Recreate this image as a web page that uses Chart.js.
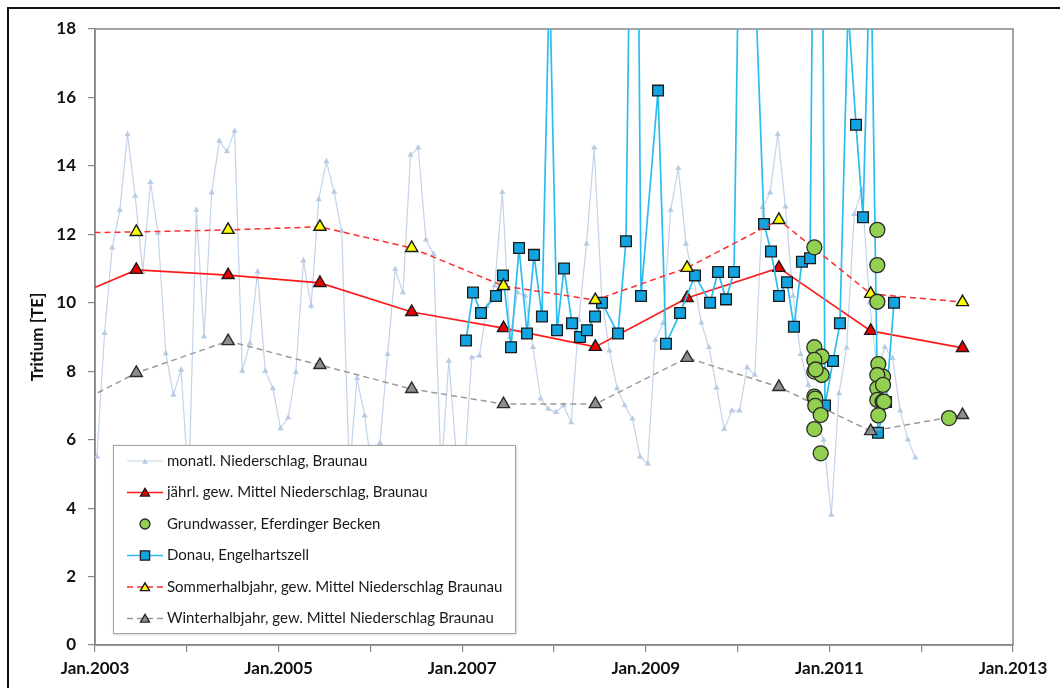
<!DOCTYPE html>
<html>
<head>
<meta charset="utf-8">
<script src="https://cdn.jsdelivr.net/npm/chart.js@4.4.0/dist/chart.umd.min.js"></script>
<style>
  html, body { margin: 0; padding: 0; background: #fff; }
  #wrap { width: 1060px; height: 688px; position: relative; }
</style>
</head>
<body>
<div id="wrap"><canvas id="c" width="1060" height="688"></canvas></div>
<script>
// Tritium in precipitation (Braunau), groundwater (Eferdinger Becken) and the Danube (Engelhartszell)

const seriesLabels = [
  'monatl. Niederschlag, Braunau',
  'jährl. gew. Mittel Niederschlag, Braunau',
  'Grundwasser, Eferdinger Becken',
  'Donau, Engelhartszell',
  'Sommerhalbjahr, gew. Mittel Niederschlag Braunau',
  'Winterhalbjahr, gew. Mittel Niederschlag Braunau'
];

// monthly precipitation, Jan 2003 .. Dec 2011 (TE)
const monthlyFirstYear = 2003;
const monthlyValues = [
  5.5, 9.11, 11.61, 12.71, 14.92, 13.12, 10.9, 13.52, 12.03, 8.52, 7.31, 8.04,
  4.6, 12.71, 9.01, 13.22, 14.73, 14.42, 15.02, 8.01, 8.82, 10.91, 8.01, 7.5,
  6.33, 6.64, 7.97, 11.23, 9.91, 13.02, 14.13, 13.24, 12.1, 5.0, 7.79, 6.7,
  5.0, 5.9, 8.5, 10.98, 10.3, 14.32, 14.53, 11.84, 11.42, 5.0, 8.3, 5.5,
  5.0, 8.4, 8.45, 9.9, 10.5, 13.23, 9.0, 10.3, 10.2, 8.7, 7.2, 6.9,
  6.8, 7.0, 6.5, 9.5, 11.72, 14.53, 10.1, 8.6, 7.5, 7.0, 6.61, 5.5,
  5.3, 8.91, 9.4, 12.71, 13.93, 11.72, 10.7, 9.42, 8.7, 7.52, 6.31, 6.85,
  6.85, 8.11, 7.89, 12.79, 13.22, 14.92, 12.81, 10.2, 8.5, 7.6, 6.5, 5.99,
  3.8, 7.35, 8.69, 12.59, 13.3, 10.0, 8.0, 8.7, 8.38, 6.85, 6.0, 5.47
];

// weighted means, plotted in the middle of each year
const meanYears   = [2002, 2003, 2004, 2005, 2006, 2007, 2008, 2009, 2010, 2011, 2012];
const yearlyMean  = [9.83, 10.96, 10.81, 10.58, 9.73, 9.26, 8.71, 10.14, 11.02, 9.18, 8.68];
const summerMean  = [12.03, 12.07, 12.13, 12.22, 11.6, 10.49, 10.08, 11.02, 12.42, 10.26, 10.02];
const winterMean  = [6.57, 7.95, 8.88, 8.18, 7.48, 7.04, 7.04, 8.39, 7.54, 6.25, 6.72];

// Danube samples (decimal year, TE)
const donauDates = [
  2007.041, 2007.118, 2007.205, 2007.368, 2007.444, 2007.532, 2007.619, 2007.706, 2007.782, 2007.869,
  2007.951, 2008.033, 2008.109, 2008.196, 2008.283, 2008.359, 2008.447, 2008.523, 2008.697, 2008.784,
  2008.882, 2008.948, 2009.133, 2009.220, 2009.373, 2009.536, 2009.700, 2009.787, 2009.874, 2009.961,
  2010.059, 2010.288, 2010.364, 2010.451, 2010.538, 2010.614, 2010.701, 2010.789, 2010.887, 2010.952,
  2011.039, 2011.115, 2011.203, 2011.290, 2011.366, 2011.449, 2011.529, 2011.617, 2011.704
];
const donauValues = [
  8.9, 10.3, 9.7, 10.2, 10.8, 8.7, 11.6, 9.1, 11.4, 9.6,
  19.6, 9.2, 11.0, 9.4, 9.0, 9.2, 9.6, 10.0, 9.1, 11.8,
  32.9, 10.2, 16.2, 8.8, 9.7, 10.8, 10.0, 10.9, 10.1, 10.9,
  29.1, 12.3, 11.5, 10.2, 10.6, 9.3, 11.2, 11.3, 41.0, 7.0,
  8.3, 9.4, 18.6, 15.2, 12.5, 20.9, 6.2, 7.1, 10.0
];

// groundwater wells (decimal year, TE)
const groundDates = [
  2010.836, 2010.836, 2010.916, 2010.836, 2010.836, 2010.916, 2010.850, 2010.836, 2010.846, 2010.846,
  2010.905, 2010.836, 2010.905,
  2011.522, 2011.522, 2011.522, 2011.533, 2011.584, 2011.522, 2011.522, 2011.584, 2011.522, 2011.579,
  2011.595, 2011.533, 2012.303
];
const groundValues = [
  11.62, 8.70, 8.43, 8.33, 7.99, 7.89, 8.05, 7.26, 7.20, 6.99,
  6.72, 6.31, 5.60,
  12.13, 11.10, 10.03, 8.21, 7.84, 7.89, 7.50, 7.60, 7.16, 7.11,
  7.11, 6.71, 6.63
];

const xMin = 2003, xMax = 2013;
const xLabelYears = [2003, 2005, 2007, 2009, 2011, 2013];
const yMin = 0, yMax = 18, yStep = 2;
const axisTitle = 'Tritium [TE]';

// ---- build point lists ----
const monthlyPts = monthlyValues.map((v, k) => ({ x: monthlyFirstYear + (k + 0.25) / 12, y: v }));
const midYear = y => y + 0.45;
const yearlyPts = meanYears.map((yr, i) => ({ x: midYear(yr), y: yearlyMean[i] }));
const summerPts = meanYears.map((yr, i) => ({ x: midYear(yr), y: summerMean[i] }));
const winterPts = meanYears.map((yr, i) => ({ x: midYear(yr), y: winterMean[i] }));
const donauPts = donauDates.map((d, i) => ({ x: d, y: donauValues[i] }));
const groundPts = groundDates.map((d, i) => ({ x: d, y: groundValues[i] }));

const FONT = 'Lato, "Open Sans", "DejaVu Sans", sans-serif';
const AXIS_GREY = '#878787';

const styles = [
  { line: '#c3d4ea', width: 1.2, dash: [], pt: 'triangle', r: 3.6, fill: '#b7cbe5', edge: '#b7cbe5', ew: 0 },
  { line: '#ff1a1a', width: 1.7, dash: [], pt: 'triangle', r: 7, fill: '#ee0000', edge: '#1a1a1a', ew: 1.4 },
  { line: null, width: 0, dash: [], pt: 'circle', r: 7.5, fill: '#92d050', edge: '#2a2a2a', ew: 1.3 },
  { line: '#2bbdee', width: 1.7, dash: [], pt: 'rect', r: 7.6, fill: '#12a4e0', edge: '#1a1a1a', ew: 1.3 },
  { line: '#ff2d2d', width: 1.5, dash: [6, 4], pt: 'triangle', r: 7, fill: '#ffff00', edge: '#1a1a1a', ew: 1.4 },
  { line: '#9a9a9a', width: 1.5, dash: [6, 4], pt: 'triangle', r: 7, fill: '#8e8e8e', edge: '#2a2a2a', ew: 1.4 }
];
const pointSets = [monthlyPts, yearlyPts, groundPts, donauPts, summerPts, winterPts];
// higher order is painted first; groundwater circles sit on top
const drawOrder = [6, 5, 0, 4, 3, 2];

const datasets = pointSets.map((pts, i) => {
  const s = styles[i];
  return {
    label: seriesLabels[i],
    data: pts,
    order: drawOrder[i],
    showLine: s.line !== null,
    borderColor: s.line || s.edge,
    borderWidth: s.width,
    borderDash: s.dash,
    tension: 0,
    fill: false,
    pointStyle: s.pt,
    pointRadius: s.r,
    pointBackgroundColor: s.fill,
    pointBorderColor: s.edge,
    pointBorderWidth: s.ew,
    pointHoverRadius: s.r
  };
});

// frame, plot border and the legend box inside the plot
const decorPlugin = {
  id: 'decor',
  beforeDraw(chart) {
    const ctx = chart.ctx;
    ctx.save();
    ctx.fillStyle = '#ffffff';
    ctx.fillRect(0, 0, chart.width, chart.height);
    ctx.restore();
  },
  beforeDatasetsDraw(chart) {
    const { ctx, chartArea: a } = chart;
    ctx.save();
    ctx.strokeStyle = AXIS_GREY;
    ctx.lineWidth = 1.5;
    ctx.strokeRect(a.left, a.top, a.right - a.left, a.bottom - a.top);
    ctx.restore();
  },
  afterDraw(chart) {
    const ctx = chart.ctx;
    // outer frame
    ctx.save();
    ctx.strokeStyle = '#111';
    ctx.lineWidth = 2;
    ctx.beginPath();
    ctx.moveTo(8, chart.height + 2);
    ctx.lineTo(8, 8);
    ctx.lineTo(chart.width + 2, 8);
    ctx.stroke();
    ctx.restore();

    // legend
    const box = { x: 113, y: 445, w: 402, h: 188 };
    ctx.save();
    ctx.shadowColor = 'rgba(0,0,0,0.28)';
    ctx.shadowBlur = 3;
    ctx.shadowOffsetX = 1;
    ctx.shadowOffsetY = 1;
    ctx.fillStyle = '#fff';
    ctx.fillRect(box.x, box.y, box.w, box.h);
    ctx.restore();
    ctx.save();
    ctx.strokeStyle = '#a3a3a3';
    ctx.lineWidth = 1;
    ctx.strokeRect(box.x + 0.5, box.y + 0.5, box.w, box.h);

    const rowY0 = 461, rowStep = 31.5;
    const symL = 127, symR = 163, symC = 145, textX = 167;
    ctx.font = '15px ' + FONT;
    ctx.textBaseline = 'middle';
    ctx.textAlign = 'left';
    chart.data.datasets.forEach((ds, i) => {
      const s = styles[i];
      const y = rowY0 + i * rowStep;
      if (s.line) {
        ctx.save();
        ctx.strokeStyle = s.line;
        ctx.lineWidth = s.width;
        ctx.setLineDash(s.dash);
        ctx.beginPath();
        ctx.moveTo(symL, y);
        ctx.lineTo(symR, y);
        ctx.stroke();
        ctx.restore();
      }
      ctx.save();
      ctx.fillStyle = s.fill;
      ctx.strokeStyle = s.edge;
      ctx.lineWidth = s.ew;
      const rr = s.pt === 'circle' ? 5 : (s.pt === 'rect' ? 6.5 : (i === 0 ? 3.4 : 5.2));
      Chart.helpers.drawPoint(ctx, { pointStyle: s.pt, radius: rr, rotation: 0, borderWidth: s.ew }, symC, y + (s.pt === 'triangle' ? 1 : 0));
      ctx.restore();
      ctx.fillStyle = '#1a1a1a';
      ctx.fillText(ds.label, textX, y);
    });
    ctx.restore();
  }
};

new Chart(document.getElementById('c'), {
  type: 'line',
  data: { datasets },
  options: {
    responsive: false,
    devicePixelRatio: 1,
    animation: false,
    parsing: true,
    layout: { padding: { left: 0, top: 29, right: 47, bottom: 0 } },
    plugins: {
      legend: { display: false },
      tooltip: { enabled: false }
    },
    scales: {
      x: {
        type: 'linear',
        min: xMin,
        max: xMax,
        afterFit(scale) { scale.height = 43; },
        ticks: {
          stepSize: 1,
          autoSkip: false,
          maxRotation: 0,
          padding: 6,
          color: '#111',
          font: { family: FONT, size: 17, weight: 'bold' },
          callback: v => (xLabelYears.includes(v) ? 'Jan.' + v : '')
        },
        grid: { drawOnChartArea: false, drawTicks: true, tickLength: 7, color: AXIS_GREY, lineWidth: 1.2 },
        border: { display: true, color: AXIS_GREY, width: 1.5 }
      },
      y: {
        type: 'linear',
        min: yMin,
        max: yMax,
        afterFit(scale) { scale.width = 95; },
        ticks: {
          stepSize: yStep,
          padding: 12,
          color: '#111',
          font: { family: FONT, size: 17, weight: 'bold' }
        },
        grid: { drawOnChartArea: false, drawTicks: true, tickLength: 7, color: AXIS_GREY, lineWidth: 1.2 },
        border: { display: true, color: AXIS_GREY, width: 1.5 },
        title: {
          display: true,
          text: axisTitle,
          color: '#111',
          font: { family: FONT, size: 17, weight: 'bold' },
          padding: { top: 27, bottom: 0 }
        }
      }
    }
  },
  plugins: [decorPlugin]
});
</script>
</body>
</html>
